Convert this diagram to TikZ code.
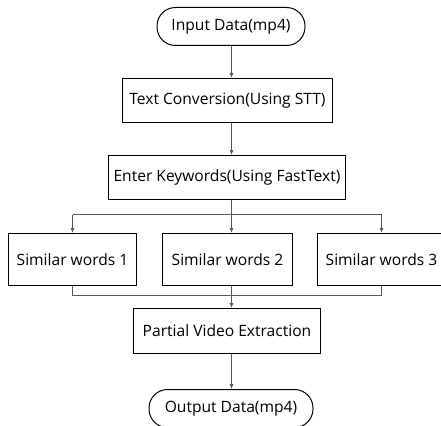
\documentclass[tikz,border=0pt]{standalone}
\usepackage{fontspec}
\setmainfont{Open Sans}
\usetikzlibrary{arrows.meta}

\begin{document}
\begin{tikzpicture}[x=1pt,y=-1pt,
        box/.style={draw,line width=1pt,minimum height=44pt,inner sep=0pt,
            font=\fontsize{15.6}{18}\selectfont},
        term/.style={box,rounded corners=18.5pt,minimum height=38pt},
        line/.style={line width=0.8pt,draw=black!65},
        arr/.style={line,-{Latex[length=5pt,width=4pt]}}]
            \useasboundingbox (0,0) rectangle (441,425);
            \clip (0,0) rectangle (441,425);
            % main column
            \coordinate (s) at (231.5,214.5);
            \coordinate (j) at (231.5,295.5);
            \node[term,minimum width=148pt] (a) at (231,26.5) {Input Data(mp4)};
            \node[box,minimum width=210pt] (b) at (227.5,100.5) {Text Conversion(Using STT)};
            \node[box,minimum width=237pt] (c) at (227,177.5) {Enter Keywords(Using FastText)};
            \node[box,minimum width=128pt,minimum height=52pt] (d) at (72.5,259.5) {Similar words 1};
            \node[box,minimum width=130pt,minimum height=52pt] (e) at (227.5,259.5) {Similar words 2};
            \node[box,minimum width=128pt,minimum height=52pt] (f) at (381.5,259.5) {Similar words 3};
            \node[box,minimum width=187pt,minimum height=45pt] (g) at (227,331) {Partial Video Extraction};
            \node[term,minimum width=164pt] (h) at (231,408.5) {Output Data(mp4)};
            \draw[arr](a.south -| s)--(b.north -| s);
            \draw[arr](b.south -| s)--(c.north -| s);
            % split
            \draw[arr](c.south -| s)--(e.north -| s);
            \draw[line](s -| d)--(s -| f);
            \draw[arr](s -| d)--(d.north);
            \draw[arr](s -| f)--(f.north);
            % join
            \draw[line](d.south)--(j -| d)--(j -| f)--(f.south);
            \draw[arr](e.south -| j)--(g.north -| j);
            \draw[arr](g.south -| j)--(h.north -| j);
        \end{tikzpicture}
\end{document}
